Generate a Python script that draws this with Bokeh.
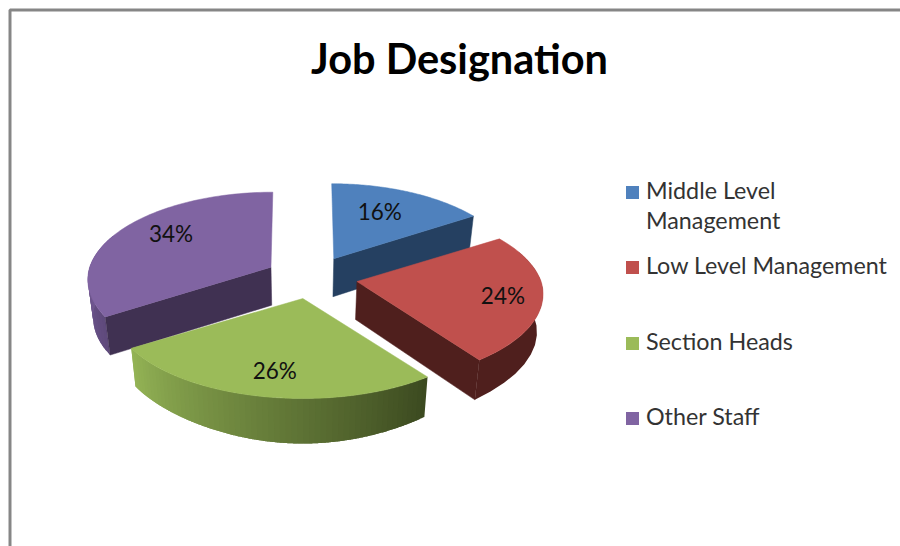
import math
from bokeh.plotting import figure
from bokeh.embed import file_html
from bokeh.resources import INLINE
from bokeh.core.properties import value

title = "Job Designation"
categories = ["Middle Level\nManagement", "Low Level Management", "Section Heads", "Other Staff"]
shares = [16, 24, 26, 34]
top_colors = ["#4f81bd", "#c0504d", "#9bbb59", "#8064a2"]
wall_colors = ["#254061", "#4f1f1d", "#4f6228", "#403152"]
legend_y = [192, 267, 343, 418]
label_dx = [46, 146, -28, -100]
label_dy = [-47, 14, 72, -34]

# projection of the tilted pie, in page pixels
CX, CY, RX, RY, PERSP, EXPLODE = 311, 277, 185, 85.7, 1 / 7, 0.25
VX, SHRINK = 300, 0.975


def project(theta, apex, t=1.0):
    u, v = t * math.sin(theta), -t * math.cos(theta)
    s = 1 / (1 - PERSP * v)
    near = 1 + 0.0011 * (apex[1] - 285)
    skew = (apex[0] - VX) * min(s - 1, 0) * 0.5
    return apex[0] + RX * near * u * s + skew, apex[1] + RY * v * s, v


def drop(pt):
    v = pt[2]
    dz = 38 + (2.5 * v if v < 0 else 7 * v ** 6)
    return VX + (pt[0] - VX) * SHRINK, pt[1] + dz


def mix(a, b, t):
    ca = [int(a[i:i + 2], 16) for i in (1, 3, 5)]
    cb = [int(b[i:i + 2], 16) for i in (1, 3, 5)]
    return "#%02x%02x%02x" % tuple(round(x + (y - x) * t) for x, y in zip(ca, cb))


p = figure(width=900, height=546, x_range=(0, 900), y_range=(546, 0),
           output_backend="svg", toolbar_location=None, min_border=0,
           outline_line_color=None, background_fill_color="white")
p.axis.visible = False
p.grid.visible = False

# chart frame (only the left and top edges fall inside the picture)
p.line([9.5, 9.5, 900], [546, 9.5, 9.5], line_color="#868686", line_width=3)

total = sum(shares)
angles = [0]
for s in shares:
    angles.append(angles[-1] + 2 * math.pi * s / total)
apexes = []
for i in range(4):
    mid = (angles[i] + angles[i + 1]) / 2
    apexes.append((CX + RX * EXPLODE * math.sin(mid), CY - RY * EXPLODE * math.cos(mid)))

# outer wall spans: (start angle, end angle, colour at start, colour at end, strips)
walls = {
    1: (angles[2] - math.radians(75), angles[2], "#4f1f1d", "#4f1f1d", 1),
    2: (angles[2], angles[3], "#3c4a20", "#93b355", 60),
    3: (angles[3], angles[3] + math.radians(55), "#5f4a7c", "#7d61a0", 20),
}


def wall_polygon(t0, t1, apex):
    ts = [t0 + (t1 - t0) * k / 12 for k in range(13)]
    top = [project(t, apex) for t in ts]
    low = [drop(q) for q in reversed(top)]
    return [q[0] for q in top] + [q[0] for q in low], [q[1] for q in top] + [q[1] for q in low]


def draw_slice(i):
    a0, a1, apex = angles[i], angles[i + 1], apexes[i]
    if i in walls:
        w0, w1, c0, c1, n = walls[i]
        step = (w1 - w0) / n
        # strips are painted from the colour-start end, each overlapped by the next
        for k in range(n):
            t0 = w0 + step * k
            t1 = min(w0 + step * (k + 2), w1)
            xs, ys = wall_polygon(t0, t1, apex)
            col = mix(c0, c1, k / max(n - 1, 1))
            p.patch(xs, ys, fill_color=col, line_color=None)
    if i in (0, 1, 3):
        edge = a1 if i != 3 else a0
        pe = project(edge, apex)
        pc = (apex[0], apex[1], 0)
        qe, qc = drop(pe), drop(pc)
        p.patch([pc[0], pe[0], qe[0], qc[0]], [pc[1], pe[1], qe[1], qc[1]],
                fill_color=wall_colors[i], line_color=wall_colors[i], line_width=0.5)
    arc = [project(a0 + (a1 - a0) * k / 80, apex) for k in range(81)]
    p.patch([apex[0]] + [q[0] for q in arc], [apex[1]] + [q[1] for q in arc],
            fill_color=top_colors[i], line_color=top_colors[i], line_width=0.5)


for i in (0, 3, 1, 2):
    draw_slice(i)

font = value("Lato")
for i in range(4):
    p.text([apexes[i][0] + label_dx[i]], [apexes[i][1] + label_dy[i]], text=[f"{shares[i]}%"],
           text_font=font, text_font_size="22.5px",
           text_align="center", text_baseline="middle", text_color="#111111")

p.text([459], [57], text=[title], text_font=font, text_font_size="41.5px", text_font_style="bold",
       text_align="center", text_baseline="middle", text_color="#000000")

p.scatter([632] * 4, legend_y, marker="square", size=13, fill_color=top_colors, line_color=None)
for cat, y in zip(categories, legend_y):
    lines = cat.split("\n")
    for j, line in enumerate(lines):
        p.text([645.5], [y + j * 30 - 3], text=[line], text_font=font, text_font_size="23.3px",
               text_align="left", text_baseline="middle", text_color="#333333")

open("out.html", "w").write(file_html(p, INLINE))
